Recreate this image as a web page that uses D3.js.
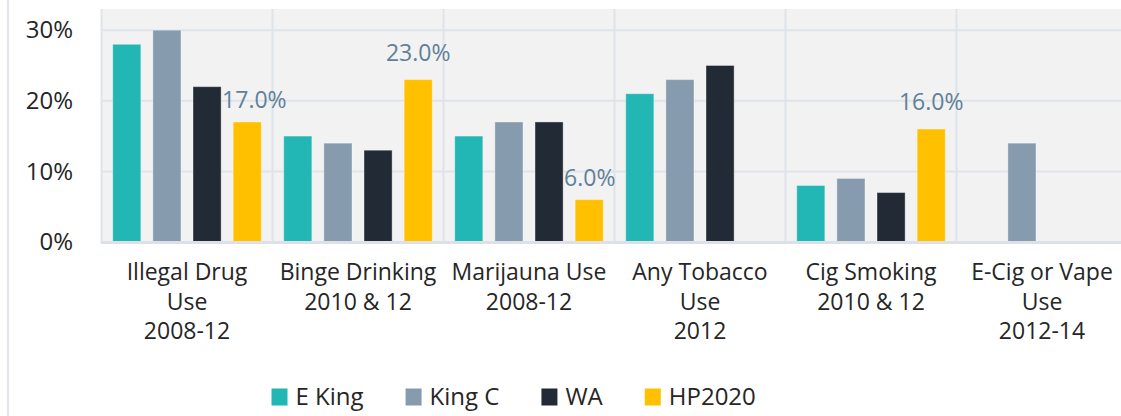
<!DOCTYPE html>
<html>
<head>
<meta charset="utf-8">
<script src="https://cdn.jsdelivr.net/npm/d3@7"></script>
<style>
  html, body { margin: 0; padding: 0; background: #ffffff; }
  svg { display: block; }
  text { font-family: "Open Sans", "Noto Sans", sans-serif; }
</style>
</head>
<body>
<svg id="chart" width="1121" height="416"></svg>
<script>
// Substance use rates by area, with the Healthy People 2020 target
const categories = [
  ["Illegal Drug", "Use", "2008-12"],
  ["Binge Drinking", "2010 & 12"],
  ["Marijauna Use", "2008-12"],
  ["Any Tobacco", "Use", "2012"],
  ["Cig Smoking", "2010 & 12"],
  ["E-Cig or Vape", "Use", "2012-14"]
];
const seriesNames = ["E King", "King C", "WA", "HP2020"];
const eKing  = [28, 15, 15, 21, 8, null];
const kingC  = [30, 14, 17, 23, 9, 14];
const wa     = [22, 13, 17, 25, 7, null];
const hp2020 = [17, 23, 6, null, 16, null];
const yTicks = [0, 10, 20, 30];

const seriesValues = [eKing, kingC, wa, hp2020];
const colors = ["#22b7b4", "#869bae", "#222b35", "#ffc000"];

const svg = d3.select("#chart");
const plot = { left: 101.5, right: 1127.5, top: 9, bottom: 242 };

const catKeys = categories.map((c, i) => i);
const x0 = d3.scaleBand().domain(catKeys).range([plot.left, plot.right]).padding(0);
const x1 = d3.scaleBand().domain(d3.range(seriesNames.length))
  .range([0, x0.bandwidth()]).paddingInner(0.3).paddingOuter(0.28);
const y = d3.scaleLinear().domain([0, 33]).range([plot.bottom, plot.top]);

// Left frame line
svg.append("line")
  .attr("x1", 8).attr("x2", 8).attr("y1", 0).attr("y2", 416)
  .attr("stroke", "#e3e7eb").attr("stroke-width", 2);

// Plot background
svg.append("rect")
  .attr("x", plot.left).attr("y", plot.top)
  .attr("width", plot.right - plot.left).attr("height", plot.bottom - plot.top)
  .attr("fill", "#f2f2f2");

// Horizontal gridlines
svg.append("g").selectAll("line")
  .data(yTicks.filter(t => t > 0))
  .join("line")
  .attr("x1", plot.left).attr("x2", plot.right)
  .attr("y1", d => y(d)).attr("y2", d => y(d))
  .attr("stroke", "#dfe4ea").attr("stroke-width", 2);

// Vertical category separators
svg.append("g").selectAll("line")
  .data(catKeys)
  .join("line")
  .attr("x1", d => x0(d)).attr("x2", d => x0(d))
  .attr("y1", plot.top).attr("y2", plot.bottom)
  .attr("stroke", "#dfe4ea").attr("stroke-width", 2);

// Y axis labels
const yAxis = d3.axisLeft(y).tickValues(yTicks).tickFormat(d => d + "%").tickSize(0).tickPadding(0);
const yg = svg.append("g").attr("transform", "translate(73,0)").call(yAxis);
yg.select(".domain").remove();
yg.selectAll("text")
  .attr("font-family", "Open Sans, sans-serif")
  .attr("font-size", 24).attr("fill", "#262626");

// Bars
const barData = [];
seriesValues.forEach((vals, s) => {
  vals.forEach((v, c) => { if (v != null) barData.push({ s, c, v }); });
});
svg.append("g").selectAll("rect")
  .data(barData)
  .join("rect")
  .attr("x", d => x0(d.c) + x1(d.s))
  .attr("y", d => y(d.v))
  .attr("width", x1.bandwidth())
  .attr("height", d => y(0) - y(d.v))
  .attr("fill", d => colors[d.s])
  .attr("stroke", "rgba(255,255,255,0.35)").attr("stroke-width", 1);

// X axis baseline
svg.append("line")
  .attr("x1", plot.left - 1).attr("x2", plot.right)
  .attr("y1", plot.bottom + 0.5).attr("y2", plot.bottom + 0.5)
  .attr("stroke", "#dde1e7").attr("stroke-width", 3);

// Value labels on the HP2020 target bars
const hpIndex = 3;
const labelG = svg.append("g");
hp2020.forEach((v, c) => {
  if (v == null) return;
  const cx = x0(c) + x1(hpIndex) + x1.bandwidth() / 2;
  const t = labelG.append("text")
    .attr("y", y(v) - 19)
    .attr("font-size", 23)
    .attr("fill", "#60809b")
    .text(d3.format(".1f")(v) + "%");
  const w = t.node().getComputedTextLength();
  // keep the label clear of the neighbouring bar to its left
  const prevRight = x0(c) + x1(hpIndex - 1) + x1.bandwidth();
  const prevTop = y(seriesValues[hpIndex - 1][c] || 0);
  let left = cx - w / 2;
  let base = y(v) - 19;
  if (left < prevRight + 1 && base > prevTop) {
    left = prevRight + 1;
    base = y(v) - 14;
  }
  t.attr("x", left).attr("y", base);
});

// Category labels
const catG = svg.append("g").attr("text-anchor", "middle")
  .attr("font-size", 23).attr("fill", "#262626");
categories.forEach((lines, c) => {
  const t = catG.append("text").attr("x", x0(c) + x0.bandwidth() / 2).attr("y", 280);
  lines.forEach((ln, i) => {
    t.append("tspan").attr("x", x0(c) + x0.bandwidth() / 2)
      .attr("y", 280 + i * 29.5).text(ln);
  });
});

// Legend
const legend = svg.append("g");
let lx = 271.5;
seriesNames.forEach((name, i) => {
  legend.append("rect")
    .attr("x", lx).attr("y", 388.5).attr("width", 16).attr("height", 17)
    .attr("fill", colors[i]);
  const t = legend.append("text")
    .attr("x", lx + 24).attr("y", 405)
    .attr("font-size", 24).attr("fill", "#262626")
    .text(name);
  lx = lx + 24 + t.node().getComputedTextLength() + 42;
});
</script>
</body>
</html>
